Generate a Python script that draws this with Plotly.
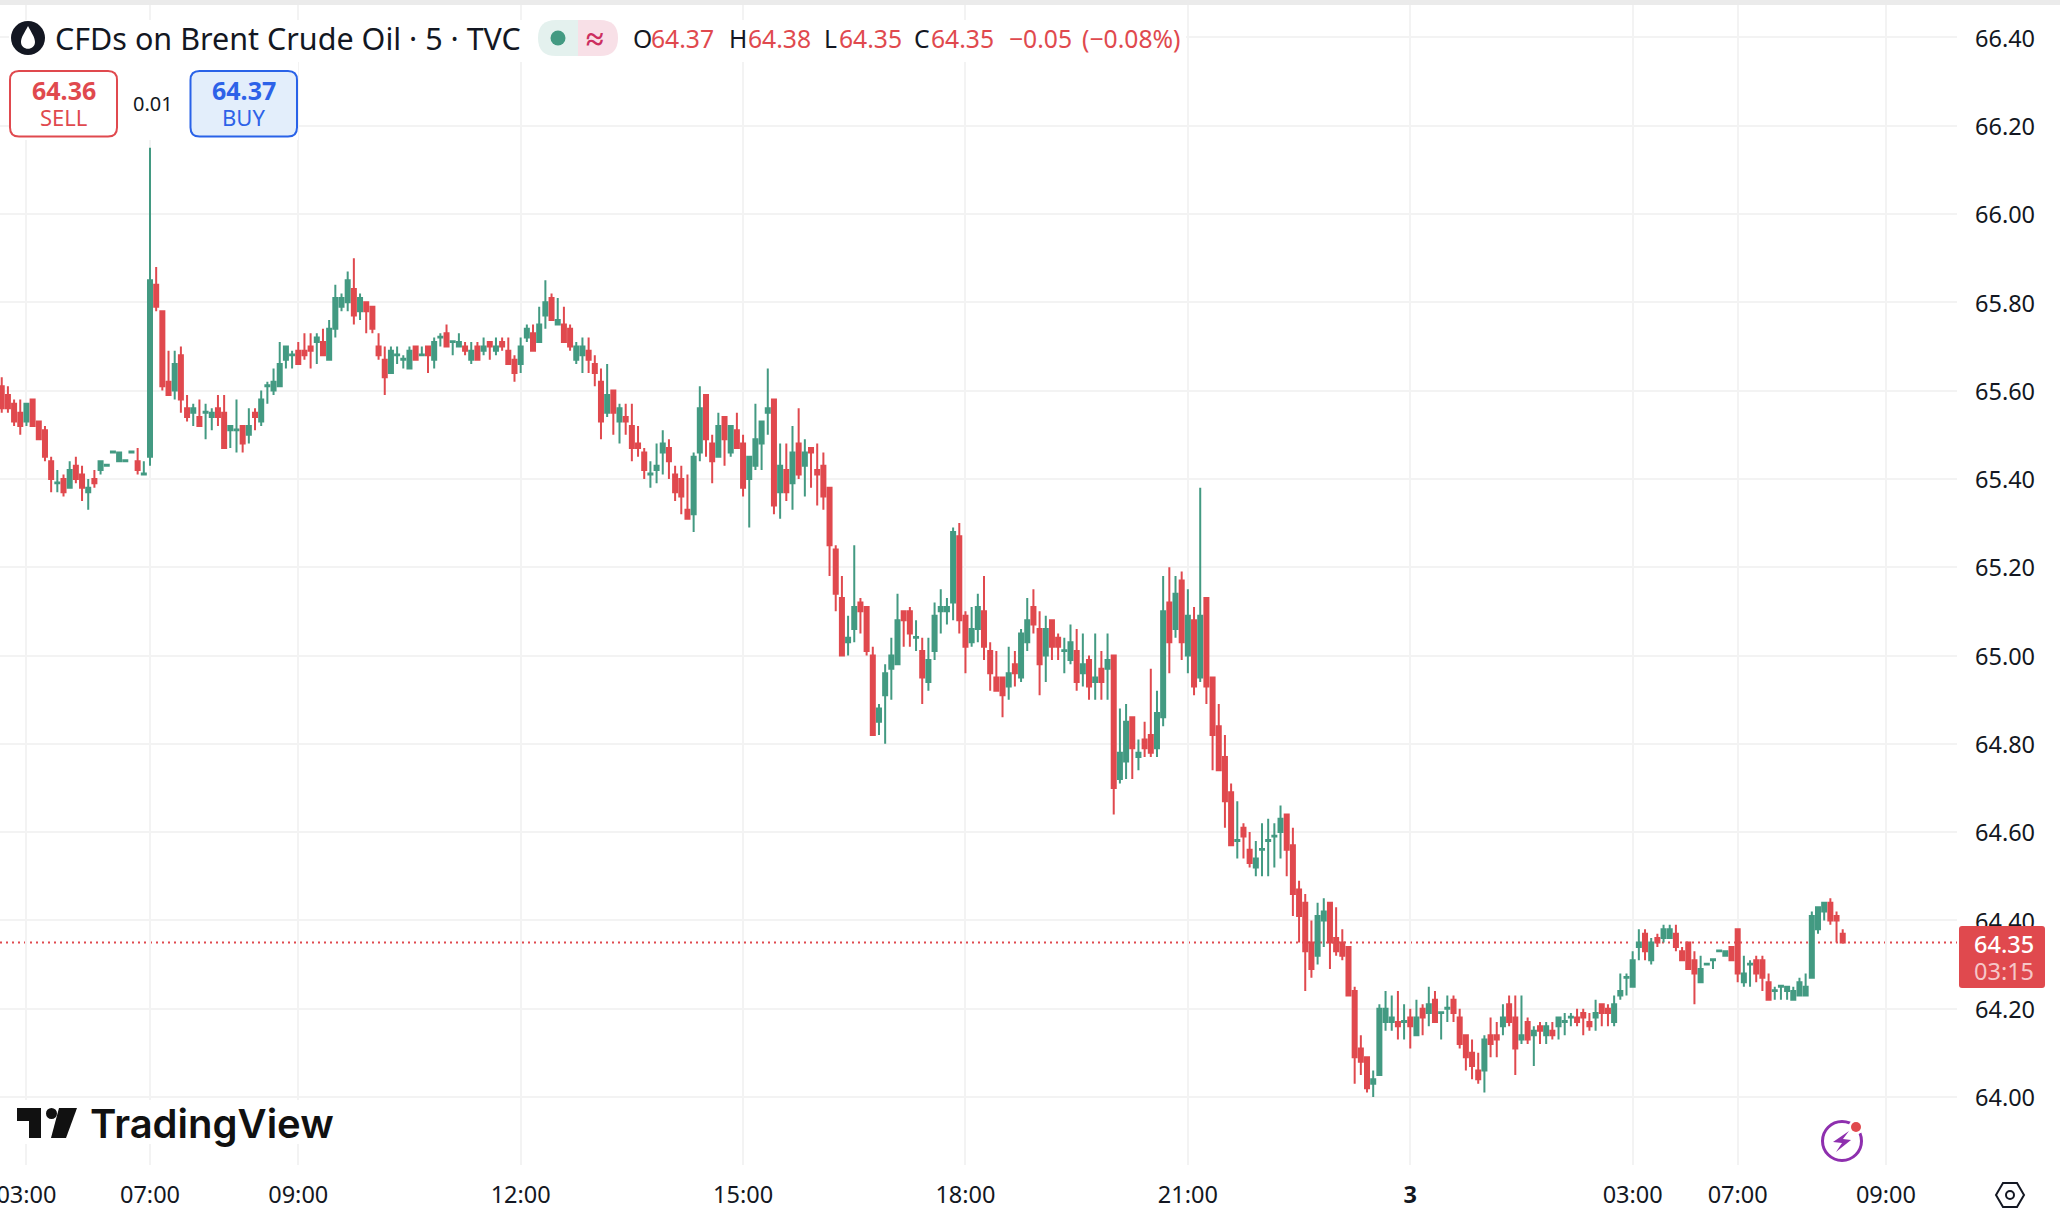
import plotly.graph_objects as go

W, H = 2060, 1220
L, R, T, B = 0, 1957, 5, 1165
GREEN = "#439A82"
RED = "#E0494E"
BLUE = "#2962E8"
INK = "#131722"
FONT = "Noto Sans"

opens = [
    65.61,65.59,65.57,65.55,65.53,65.58,65.53,65.51,65.44,65.39,
    65.40,65.38,65.43,65.41,65.37,65.40,65.42,65.43,65.46,65.44,
    65.44,65.46,65.44,65.41,65.45,65.84,65.78,65.62,65.60,65.68,
    65.56,65.55,65.54,65.55,65.54,65.56,65.55,65.51,65.51,65.52,
    65.50,65.55,65.53,65.61,65.60,65.61,65.67,65.68,65.69,65.69,
    65.70,65.71,65.71,65.67,65.74,65.79,65.80,65.83,65.78,65.80,
    65.79,65.70,65.67,65.64,65.68,65.67,65.65,65.70,65.68,65.70,
    65.67,65.72,65.73,65.71,65.70,65.70,65.67,65.70,65.69,65.71,
    65.69,65.71,65.69,65.67,65.66,65.72,65.73,65.71,65.77,65.81,
    65.75,65.75,65.74,65.67,65.68,65.69,65.66,65.62,65.55,65.60,
    65.53,65.54,65.52,65.48,65.46,65.41,65.42,65.46,65.47,65.41,
    65.40,65.33,65.32,65.46,65.59,65.48,65.45,65.54,65.46,65.51,
    65.48,65.40,65.43,65.48,65.55,65.58,65.37,65.42,65.39,65.48,
    65.43,65.47,65.42,65.43,65.38,65.24,65.13,65.03,65.06,65.12,
    65.11,65.00,64.85,64.91,64.97,64.98,65.10,65.10,65.04,65.01,
    64.94,65.01,65.10,65.10,65.12,65.27,65.09,65.03,65.06,65.10,
    65.01,64.95,64.95,64.93,64.98,64.95,65.03,65.11,65.06,65.00,
    65.08,65.04,65.01,64.99,65.01,64.96,64.99,64.94,64.97,64.97,
    65.00,64.72,64.76,64.86,64.77,64.81,64.82,64.79,64.86,65.12,
    65.06,65.17,65.00,65.08,64.95,65.13,64.95,64.84,64.77,64.69,
    64.58,64.61,64.56,64.52,64.56,64.58,64.59,64.60,64.64,64.57,
    64.47,64.44,64.35,64.32,64.40,64.44,64.36,64.35,64.34,64.24,
    64.11,64.09,64.03,64.05,64.17,64.17,64.17,64.17,64.18,64.14,
    64.20,64.19,64.22,64.19,64.20,64.22,64.18,64.14,64.10,64.06,
    64.06,64.14,64.14,64.16,64.21,64.18,64.13,64.17,64.14,64.16,
    64.14,64.15,64.16,64.17,64.18,64.18,64.19,64.17,64.18,64.21,
    64.20,64.17,64.23,64.27,64.25,64.34,64.37,64.31,64.36,64.36,
    64.36,64.37,64.33,64.35,64.31,64.26,64.30,64.31,64.33,64.32,
    64.34,64.38,64.26,64.30,64.31,64.31,64.26,64.24,64.25,64.24,
    64.22,64.23,64.23,64.27,64.38,64.42,64.44,64.41,64.37,
]
highs = [
    65.63,65.61,65.58,65.58,65.57,65.58,65.53,65.52,65.45,65.42,
    65.41,65.44,65.45,65.43,65.40,65.42,65.44,65.432,65.462,65.46,
    65.442,65.462,65.47,65.44,66.15,65.88,65.78,65.69,65.69,65.70,
    65.59,65.57,65.58,65.57,65.56,65.59,65.59,65.52,65.58,65.52,
    65.56,65.56,65.60,65.62,65.65,65.71,65.70,65.69,65.71,65.73,
    65.73,65.73,65.74,65.76,65.84,65.82,65.87,65.90,65.82,65.80,
    65.79,65.73,65.70,65.70,65.70,65.68,65.70,65.70,65.70,65.70,
    65.72,65.73,65.75,65.712,65.73,65.71,65.71,65.71,65.72,65.71,
    65.72,65.72,65.72,65.68,65.72,65.75,65.75,65.79,65.85,65.82,
    65.81,65.79,65.75,65.71,65.72,65.72,65.68,65.65,65.66,65.60,
    65.57,65.57,65.57,65.52,65.47,65.44,65.48,65.51,65.49,65.43,
    65.43,65.41,65.46,65.61,65.59,65.50,65.55,65.54,65.52,65.55,
    65.50,65.45,65.57,65.53,65.65,65.58,65.48,65.48,65.52,65.56,
    65.49,65.47,65.48,65.46,65.38,65.25,65.18,65.09,65.25,65.13,
    65.11,65.02,64.89,64.98,65.04,65.14,65.10,65.11,65.08,65.04,
    65.04,65.12,65.15,65.13,65.29,65.30,65.10,65.11,65.14,65.18,
    65.03,65.01,64.95,65.02,65.01,65.06,65.13,65.15,65.10,65.09,
    65.08,65.05,65.04,65.07,65.06,65.05,65.00,65.05,65.01,65.05,
    65.00,64.88,64.89,64.86,64.81,64.85,64.97,64.92,65.18,65.20,
    65.18,65.19,65.15,65.11,65.38,65.13,64.95,64.89,64.82,64.71,
    64.67,64.62,64.60,64.58,64.62,64.63,64.62,64.66,64.64,64.61,
    64.49,64.46,64.40,64.44,64.45,64.44,64.43,64.38,64.34,64.25,
    64.14,64.09,64.06,64.21,64.24,64.23,64.24,64.21,64.20,64.22,
    64.21,64.25,64.24,64.192,64.23,64.23,64.20,64.14,64.13,64.10,
    64.14,64.18,64.17,64.21,64.23,64.23,64.23,64.18,64.16,64.17,
    64.17,64.17,64.18,64.19,64.19,64.20,64.20,64.19,64.22,64.21,
    64.21,64.23,64.28,64.28,64.33,64.38,64.38,64.36,64.37,64.39,
    64.39,64.39,64.34,64.35,64.33,64.32,64.302,64.312,64.332,64.33,
    64.34,64.38,64.32,64.31,64.32,64.32,64.28,64.25,64.252,64.25,
    64.25,64.27,64.28,64.42,64.43,64.44,64.45,64.42,64.38,
]
lows = [
    65.55,65.55,65.52,65.50,65.52,65.52,65.49,65.44,65.37,65.37,
    65.36,65.38,65.39,65.35,65.33,65.38,65.41,65.43,65.46,65.44,
    65.44,65.46,65.41,65.41,65.43,65.78,65.60,65.59,65.58,65.55,
    65.53,65.52,65.52,65.49,65.51,65.52,65.47,65.47,65.46,65.46,
    65.48,65.51,65.52,65.57,65.59,65.61,65.65,65.65,65.66,65.67,
    65.65,65.66,65.68,65.67,65.72,65.78,65.78,65.75,65.76,65.73,
    65.73,65.67,65.59,65.64,65.66,65.65,65.65,65.67,65.68,65.64,
    65.65,65.70,65.70,65.68,65.70,65.68,65.66,65.67,65.68,65.67,
    65.68,65.69,65.66,65.62,65.64,65.71,65.69,65.71,65.74,65.76,
    65.75,65.71,65.69,65.66,65.64,65.64,65.61,65.49,65.54,65.50,
    65.48,65.50,65.44,65.45,65.40,65.38,65.39,65.41,65.40,65.35,
    65.32,65.31,65.28,65.44,65.45,65.39,65.45,65.43,65.45,65.47,
    65.36,65.29,65.42,65.42,65.50,65.32,65.31,65.35,65.33,65.40,
    65.36,65.38,65.34,65.33,65.18,65.10,65.00,65.00,65.03,65.05,
    65.00,64.82,64.82,64.80,64.90,64.98,65.02,65.02,65.01,64.89,
    64.92,64.99,65.05,65.07,65.08,65.05,64.96,65.02,65.03,64.99,
    64.92,64.92,64.86,64.90,64.93,64.94,65.01,65.05,64.91,64.94,
    64.99,64.99,64.96,64.98,64.92,64.93,64.90,64.90,64.90,64.90,
    64.64,64.71,64.72,64.72,64.74,64.77,64.77,64.77,64.84,64.96,
    65.04,64.99,64.96,64.91,64.94,64.89,64.74,64.74,64.61,64.57,
    64.54,64.54,64.52,64.50,64.50,64.50,64.52,64.54,64.50,64.41,
    64.35,64.24,64.27,64.30,64.34,64.29,64.32,64.31,64.23,64.03,
    64.05,64.01,64.00,64.05,64.15,64.15,64.13,64.13,64.11,64.14,
    64.14,64.16,64.17,64.13,64.17,64.17,64.11,64.06,64.04,64.03,
    64.01,64.09,64.09,64.14,64.16,64.05,64.12,64.12,64.07,64.12,
    64.12,64.13,64.13,64.14,64.16,64.16,64.14,64.15,64.15,64.16,
    64.16,64.16,64.22,64.23,64.25,64.31,64.31,64.30,64.34,64.35,
    64.36,64.33,64.31,64.29,64.21,64.26,64.30,64.29,64.33,64.32,
    64.31,64.26,64.25,64.25,64.26,64.24,64.22,64.22,64.22,64.22,
    64.22,64.23,64.23,64.27,64.37,64.40,64.39,64.35,64.35,
]
closes = [
    65.56,65.56,65.53,65.52,65.57,65.52,65.49,65.45,65.40,65.392,
    65.37,65.42,65.40,65.38,65.38,65.39,65.44,65.432,65.462,65.46,
    65.442,65.462,65.42,65.412,65.85,65.79,65.61,65.59,65.66,65.58,
    65.54,65.56,65.52,65.552,65.55,65.54,65.47,65.52,65.512,65.48,
    65.52,65.54,65.58,65.612,65.62,65.66,65.70,65.682,65.66,65.68,
    65.69,65.72,65.68,65.74,65.81,65.81,65.85,65.77,65.81,65.78,
    65.74,65.68,65.63,65.69,65.682,65.672,65.69,65.67,65.682,65.68,
    65.71,65.722,65.70,65.712,65.71,65.69,65.69,65.67,65.70,65.70,
    65.70,65.70,65.66,65.64,65.70,65.74,65.69,65.75,65.80,65.76,
    65.76,65.71,65.70,65.70,65.70,65.67,65.64,65.53,65.59,65.55,
    65.56,65.53,65.47,65.47,65.42,65.412,65.43,65.48,65.44,65.37,
    65.36,65.31,65.45,65.56,65.49,65.44,65.52,65.49,65.52,65.47,
    65.38,65.45,65.49,65.53,65.56,65.34,65.43,65.37,65.46,65.41,
    65.46,65.46,65.41,65.36,65.25,65.14,65.00,65.04,65.11,65.10,
    65.01,64.82,64.88,64.96,65.00,65.08,65.08,65.05,65.042,64.95,
    64.99,65.09,65.11,65.11,65.28,65.08,65.02,65.06,65.11,65.02,
    64.96,64.92,64.91,64.96,64.96,65.05,65.08,65.07,64.98,65.06,
    65.02,65.02,65.012,65.03,64.94,64.98,64.93,64.95,64.94,64.99,
    64.70,64.78,64.85,64.79,64.78,64.79,64.78,64.87,65.10,65.03,
    65.14,65.03,65.09,64.93,65.09,64.93,64.82,64.74,64.67,64.57,
    64.582,64.59,64.53,64.54,64.562,64.582,64.592,64.63,64.56,64.46,
    64.41,64.33,64.29,64.41,64.42,64.35,64.33,64.32,64.23,64.09,
    64.08,64.02,64.04,64.20,64.20,64.18,64.16,64.172,64.16,64.18,
    64.18,64.21,64.17,64.192,64.202,64.19,64.12,64.09,64.07,64.04,
    64.13,64.12,64.13,64.18,64.17,64.11,64.14,64.13,64.15,64.15,
    64.16,64.14,64.18,64.172,64.182,64.17,64.18,64.16,64.19,64.19,
    64.19,64.21,64.24,64.272,64.31,64.35,64.33,64.35,64.35,64.38,
    64.38,64.34,64.31,64.29,64.28,64.29,64.302,64.312,64.332,64.33,
    64.31,64.28,64.28,64.302,64.28,64.27,64.22,64.242,64.252,64.25,
    64.24,64.26,64.25,64.41,64.43,64.44,64.40,64.40,64.35,
]
first_bar = -24
bar_numbers = [first_bar + n for n in range(len(opens))]
assert len(opens) == len(highs) == len(lows) == len(closes) == 299

time_tick_bars = [-20, 0, 24, 60, 96, 132, 168, 204, 240, 257, 281]
time_tick_labels = ["03:00", "07:00", "09:00", "12:00", "15:00", "18:00", "21:00", "<b>3</b>", "03:00", "07:00", "09:00"]
price_ticks = [64.0, 64.2, 64.4, 64.6, 64.8, 65.0, 65.2, 65.4, 65.6, 65.8, 66.0, 66.2, 66.4]
last_price = 64.35
legend_title = "CFDs on Brent Crude Oil · 5 · TVC"


def px(x):
    return (x - L) / (R - L)


def py(y):
    return 1 - (y - T) / (B - T)


def pt(x, y):
    return f"{px(x):.5f},{py(y):.5f}"


def poly(points):
    return "M" + " L".join(pt(x, y) for x, y in points) + " Z"


def rrect(x0, y0, x1, y1, r):
    return (f"M{pt(x0 + r, y0)} L{pt(x1 - r, y0)} Q{pt(x1, y0)} {pt(x1, y0 + r)} "
            f"L{pt(x1, y1 - r)} Q{pt(x1, y1)} {pt(x1 - r, y1)} L{pt(x0 + r, y1)} "
            f"Q{pt(x0, y1)} {pt(x0, y1 - r)} L{pt(x0, y0 + r)} Q{pt(x0, y0)} {pt(x0 + r, y0)} Z")


shapes = []


def add_path(path, fill=None, line=None, lw=0, layer="above"):
    shapes.append(dict(type="path", xref="paper", yref="paper", path=path, layer=layer,
                       fillcolor=fill or "rgba(0,0,0,0)",
                       line=dict(color=line or "rgba(0,0,0,0)", width=lw)))


def add_rect(x0, y0, x1, y1, fill):
    shapes.append(dict(type="rect", xref="paper", yref="paper", x0=px(x0), x1=px(x1), y0=py(y0), y1=py(y1),
                       fillcolor=fill, line=dict(width=0), layer="above"))


def add_circle(cx, cy, r, fill=None, line=None, lw=0):
    shapes.append(dict(type="circle", xref="paper", yref="paper", x0=px(cx - r), x1=px(cx + r),
                       y0=py(cy + r), y1=py(cy - r), fillcolor=fill or "rgba(0,0,0,0)",
                       line=dict(color=line or "rgba(0,0,0,0)", width=lw), layer="above"))


annotations = []


def add_text(x, y, text, size, color=INK, anchor="left", family=FONT, weight=None):
    font = dict(family=family, size=size, color=color)
    if weight:
        font["weight"] = weight
    annotations.append(dict(xref="paper", yref="paper", x=px(x), y=py(y), text=text, showarrow=False,
                            xanchor=anchor, yanchor="middle", font=font,
                            borderpad=0, borderwidth=0))


# top strip
add_rect(0, -2, 2060, 5, "#EBEBEB")
# white plates behind legend & logo
add_rect(9, 20, 1186, 62, "#FFFFFF")
add_rect(9, 62, 298, 140, "#FFFFFF")
add_rect(0, 1100, 342, 1144, "#FFFFFF")

# last price line
shapes.append(dict(type="line", xref="paper", yref="y", x0=0, x1=1, y0=last_price, y1=last_price,
                   line=dict(color=RED, width=2, dash="2px,4px"), layer="between"))

# legend icon
add_circle(28, 38, 17, fill="#131722")
add_path(f"M{pt(28, 26)} C{pt(31, 32)} {pt(35, 37)} {pt(35, 42)} C{pt(35, 51)} {pt(21, 51)} {pt(21, 42)} C{pt(21, 37)} {pt(25, 32)} {pt(28, 26)} Z",
         fill="#FFFFFF")
add_text(55, 38, legend_title, 30.5)

# status pill
add_path(f"M{pt(578, 20)} L{pt(556, 20)} Q{pt(538, 20)} {pt(538, 38)} Q{pt(538, 56)} {pt(556, 56)} L{pt(578, 56)} Z", fill="#E4F1EE")
add_path(f"M{pt(578, 20)} L{pt(600, 20)} Q{pt(618, 20)} {pt(618, 38)} Q{pt(618, 56)} {pt(600, 56)} L{pt(578, 56)} Z", fill="#F8E0E7")
add_circle(558, 38, 7.5, fill=GREEN)
add_text(595, 37, "<b>≈</b>", 32, color="#CC2F60", anchor="center")

# OHLC readout
READOUT = 24.7
add_text(633, 38, "O", READOUT)
add_text(651, 38, "64.37", READOUT, RED)
add_text(729, 38, "H", READOUT)
add_text(748, 38, "64.38", READOUT, RED)
add_text(824, 38, "L", READOUT)
add_text(839, 38, "64.35", READOUT, RED)
add_text(914, 38, "C", READOUT)
add_text(931, 38, "64.35", READOUT, RED)
add_text(1009, 38, "−0.05", READOUT, RED)
add_text(1082, 38, "(−0.08%)", READOUT, RED)

# sell/buy
add_path(rrect(10, 71, 117, 136.5, 9), fill="#FFFFFF", line=RED, lw=2)
add_text(63.5, 90, "<b>64.36</b>", 25, RED, "center")
add_text(63, 117, "SELL", 22, RED, "center")
add_text(153, 104, "0.01", 20, INK, "center")
add_path(rrect(190.5, 71, 297, 136.5, 9), fill="#E3EEFB", line=BLUE, lw=2)
add_text(244, 90, "<b>64.37</b>", 25, "#2D62E8", "center")
add_text(243, 117, "BUY", 22, "#2D62E8", "center")

# TradingView wordmark
add_path(poly([(17, 1108), (41, 1108), (41, 1138), (29, 1138), (29, 1121), (17, 1121)]), fill="#111111")
add_circle(51.5, 1113.5, 5.5, fill="#111111")
add_path(poly([(59, 1108), (77, 1108), (66, 1138), (51, 1138)]), fill="#111111")
add_text(90, 1123, "TradingView", 40, "#111111", family="Inter", weight=600)

# power icon
add_circle(1842, 1141, 19.5, line="#8E2FAE", lw=3)
add_circle(1856, 1127, 7.5, fill="#FFFFFF")
add_circle(1856, 1127, 5, fill=RED)
add_path(poly([(1849, 1131), (1833, 1142), (1842, 1143), (1836, 1152), (1851, 1140), (1843, 1139)]), fill="#8E2FAE")

# price label
add_path(rrect(1959, 926, 2045, 988, 3), fill=RED)
add_text(2004, 944, "64.35", 23.5, "#FFFFFF", "center", weight=500)
add_text(2004, 971, "03:15", 23.5, "rgba(255,255,255,0.7)", "center")

# settings hexagon
add_path(poly([(1996, 1195), (2003, 1183), (2017, 1183), (2024, 1195), (2017, 1207), (2003, 1207)]), line="#131722", lw=2)
add_circle(2010, 1195, 4, line="#131722", lw=2)

fig = go.Figure(go.Candlestick(
    x=bar_numbers, open=opens, high=highs, low=lows, close=closes,
    increasing=dict(line=dict(color=GREEN, width=2), fillcolor=GREEN),
    decreasing=dict(line=dict(color=RED, width=2), fillcolor=RED),
    whiskerwidth=0, hoverinfo="skip",
))

grid = "#F3F3F3"
fig.update_layout(
    width=W, height=H,
    margin=dict(l=L, r=W - R, t=T, b=H - B, pad=0),
    paper_bgcolor="#FFFFFF", plot_bgcolor="#FFFFFF",
    showlegend=False, boxgap=0.35, boxgroupgap=0,
    font=dict(family=FONT, color=INK),
    shapes=shapes, annotations=annotations,
    xaxis=dict(
        range=[-24.28, 292.5], rangeslider=dict(visible=False), tickmode="array",
        tickvals=time_tick_bars, ticktext=time_tick_labels, showgrid=True, gridcolor=grid, gridwidth=2,
        ticks="", zeroline=False, showline=False, tickfont=dict(size=23.5, color=INK),
        ticklabeloverflow="allow", ticklabelstandoff=13, automargin=False,
    ),
    yaxis=dict(
        range=[64 - (B - 1097) / 441.5, 64 + (1097 - T) / 441.5], side="right", tickmode="array",
        tickvals=price_ticks, ticktext=[f"{v:.2f}" for v in price_ticks], showgrid=True, gridcolor=grid,
        gridwidth=2, ticks="", zeroline=False, showline=False, tickfont=dict(size=23.5, color=INK),
        ticklabelstandoff=17, ticklabelshift=1, automargin=False,
    ),
)

fig.write_html("out.html", config=dict(displayModeBar=False),
               post_script="document.body.style.margin='0';document.documentElement.style.overflow='hidden';")
